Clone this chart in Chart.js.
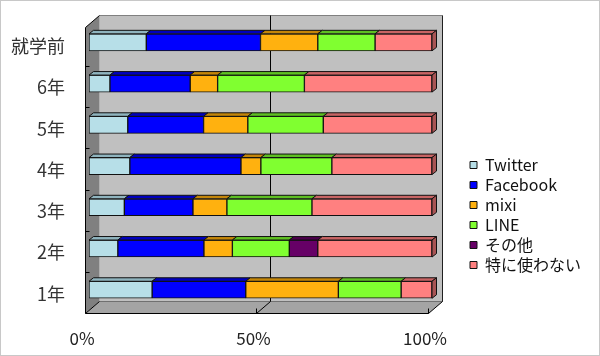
<!DOCTYPE html>
<html><head><meta charset="utf-8">
<script src="https://cdn.jsdelivr.net/npm/chart.js@4/dist/chart.umd.min.js"></script>
<style>html,body{margin:0;padding:0;background:#fff}canvas{display:block}</style>
</head><body>
<canvas id="c" width="600" height="356"></canvas>
<script>
// ---- data ----
const categories = ['就学前', '6年', '5年', '4年', '3年', '2年', '1年'];
const seriesNames = ['Twitter', 'Facebook', 'mixi', 'LINE', 'その他', '特に使わない'];
const twitter  = [16.7,  6.1, 11.3, 11.9, 10.3,  8.4, 18.4];
const facebook = [33.3, 23.4, 22.1, 32.4, 20.0, 25.1, 27.3];
const mixi     = [16.7,  8.0, 12.9,  5.8,  9.9,  8.3, 27.0];
const lineApp  = [16.7, 25.3, 22.0, 20.7, 24.8, 16.6, 18.3];
const other    = [ 0,    0,    0,    0,    0,    8.3,  0  ];
const noUse    = [16.6, 37.2, 31.7, 29.2, 35.0, 33.3,  9.0];
const xTicks = [0, 50, 100];

// ---- styles ----
const frontColors = ['#B7DFE8', '#0000FF', '#FFB10F', '#80FF30', '#660066', '#FF8080'];
const topColors   = ['#8FB4BE', '#0000BE', '#C48608', '#5EC022', '#4A004A', '#C86464'];
const sideColors  = ['#7FA0A8', '#0000A0', '#A87206', '#50A01C', '#3C003C', '#A85454'];
const seriesValues = [twitter, facebook, mixi, lineApp, other, noUse];

const DEPTH_X = 14, DEPTH_Y = 12;      // box depth
const BAR_DX = 4.5, BAR_DY = 3.5;      // bar depth
const FRONT_OFF_X = -4.5, FRONT_OFF_Y = 3; // box front plane relative to bar front plane

function poly(ctx, pts) {
  ctx.beginPath();
  ctx.moveTo(pts[0][0], pts[0][1]);
  for (let i = 1; i < pts.length; i++) ctx.lineTo(pts[i][0], pts[i][1]);
  ctx.closePath();
}
function seg(ctx, x1, y1, x2, y2, color) {
  ctx.strokeStyle = color;
  ctx.lineWidth = 1;
  ctx.beginPath();
  ctx.moveTo(x1, y1);
  ctx.lineTo(x2, y2);
  ctx.stroke();
}

const wallPlugin = {
  id: 'walls',
  beforeDatasetsDraw(chart) {
    const {ctx, chartArea: a, scales: {x}} = chart;
    const fl = Math.round(x.getPixelForValue(0) + FRONT_OFF_X) + 0.5;
    const fr = Math.round(x.getPixelForValue(100) + FRONT_OFF_X) + 0.5;
    const ft = Math.round(a.top + 5.3) + 0.5;
    const fb = Math.round(a.bottom + 2.6) + 0.5;
    const bl = fl + DEPTH_X, br = fr + DEPTH_X, bt = ft - DEPTH_Y, bb = fb - DEPTH_Y;
    ctx.save();
    ctx.fillStyle = '#C0C0C0';
    ctx.fillRect(bl, bt, br - bl, bb - bt);
    ctx.fillStyle = '#808080';
    poly(ctx, [[fl, ft], [bl, bt], [bl, bb], [fl, fb]]); ctx.fill();
    ctx.fillStyle = '#A4A4A4';
    poly(ctx, [[fl, fb], [bl, bb], [br, bb], [fr, fb]]); ctx.fill();
    // back wall edges
    seg(ctx, bl, bt, br, bt, '#808080');
    seg(ctx, bl, bb, br, bb, '#707070');
    // grid lines on back wall + floor
    xTicks.forEach(v => {
      const pf = Math.round(x.getPixelForValue(v) + FRONT_OFF_X) + 0.5;
      const pb = pf + DEPTH_X;
      if (v > 0) seg(ctx, pb, bt, pb, bb, v === 100 ? '#202020' : '#000');
      seg(ctx, pf, fb, pb, bb, '#000');
      if (v > 0) seg(ctx, pf, fb - 5, pf, fb, '#000');
    });
    // left wall outline
    seg(ctx, fl, ft, bl, bt, '#000');
    seg(ctx, fl, ft, fl, fb, '#000');
    seg(ctx, fl, fb, fr, fb, '#000');
    // left wall category ticks
    const n = categories.length;
    for (let i = 1; i < n; i++) {
      const yy = Math.round(a.top + i * a.height / n + FRONT_OFF_Y) + 0.5;
      seg(ctx, fl, yy, fl + 4, yy, '#000');
    }
    ctx.restore();
  },
  afterDatasetsDraw(chart) {
    const {ctx} = chart;
    ctx.save();
    const nCat = categories.length;
    const lastIdx = [];
    for (let i = 0; i < nCat; i++) {
      let li = -1;
      seriesValues.forEach((arr, di) => { if (arr[i] > 0) li = di; });
      lastIdx.push(li);
    }
    chart.data.datasets.forEach((ds, di) => {
      const meta = chart.getDatasetMeta(di);
      meta.data.forEach((bar, i) => {
        const p = bar.getProps(['x', 'base', 'y', 'height'], true);
        const xl = Math.min(p.x, p.base), xr = Math.max(p.x, p.base);
        if (xr - xl < 0.5) return;
        const top = p.y - p.height / 2, bot = p.y + p.height / 2;
        ctx.lineWidth = 1;
        ctx.strokeStyle = '#111';
        ctx.fillStyle = topColors[di];
        poly(ctx, [[xl, top], [xl + BAR_DX, top - BAR_DY], [xr + BAR_DX, top - BAR_DY], [xr, top]]);
        ctx.fill(); ctx.stroke();
        if (lastIdx[i] === di) {
          ctx.fillStyle = sideColors[di];
          poly(ctx, [[xr, top], [xr + BAR_DX, top - BAR_DY], [xr + BAR_DX, bot - BAR_DY], [xr, bot]]);
          ctx.fill(); ctx.stroke();
        }
      });
    });
    ctx.restore();
  },
  afterDraw(chart) {
    const {ctx} = chart;
    ctx.save();
    ctx.strokeStyle = '#C8C8C8';
    ctx.lineWidth = 1;
    ctx.strokeRect(0.5, 0.5, 599, 355);
    ctx.restore();
  },
  afterLayout(chart) {
    const lg = chart.legend;
    if (lg) {
      lg.left = 466; lg.top = 153;
      lg.right = 600; lg.bottom = 153 + 200;
      lg.width = lg.right - lg.left; lg.height = 200;
    }
  }
};

const FONT = "'Noto Sans CJK JP', 'Noto Sans', sans-serif";

new Chart(document.getElementById('c'), {
  type: 'bar',
  data: {
    labels: categories,
    datasets: seriesNames.map((name, di) => ({
      label: name,
      data: seriesValues[di],
      backgroundColor: frontColors[di],
      borderColor: '#111',
      borderWidth: 1,
      borderSkipped: false,
      barThickness: 17,
      categoryPercentage: 1
    }))
  },
  options: {
    indexAxis: 'y',
    responsive: false,
    animation: false,
    devicePixelRatio: 1,
    layout: { padding: { left: 0, right: 168, top: 21.7, bottom: 0 } },
    plugins: {
      tooltip: { enabled: false },
      legend: {
        position: 'chartArea',
        align: 'start',
        labels: {
          boxWidth: 7, boxHeight: 7, padding: 4,
          color: '#111',
          font: { family: FONT, size: 16 }
        }
      }
    },
    scales: {
      x: {
        stacked: true, min: 0, max: 100,
        afterBuildTicks: s => { s.ticks = xTicks.map(v => ({ value: v })); },
        afterFit: s => { s.height = 45.6; s.paddingLeft = 0; s.paddingRight = 0; },
        grid: { display: false, drawTicks: false },
        border: { display: false },
        ticks: {
          callback: v => v + '%',
          labelOffset: -7, padding: 18, maxRotation: 0,
          color: '#222', font: { family: FONT, size: 17 }
        }
      },
      y: {
        stacked: true,
        afterFit: s => { s.width = 89; s.paddingTop = 0; s.paddingBottom = 0; },
        grid: { display: false, drawTicks: false },
        border: { display: false },
        ticks: {
          padding: 24, labelOffset: 4, autoSkip: false,
          color: '#333', font: { family: FONT, size: 18 }
        }
      }
    }
  },
  plugins: [wallPlugin]
});
</script>
</body></html>
